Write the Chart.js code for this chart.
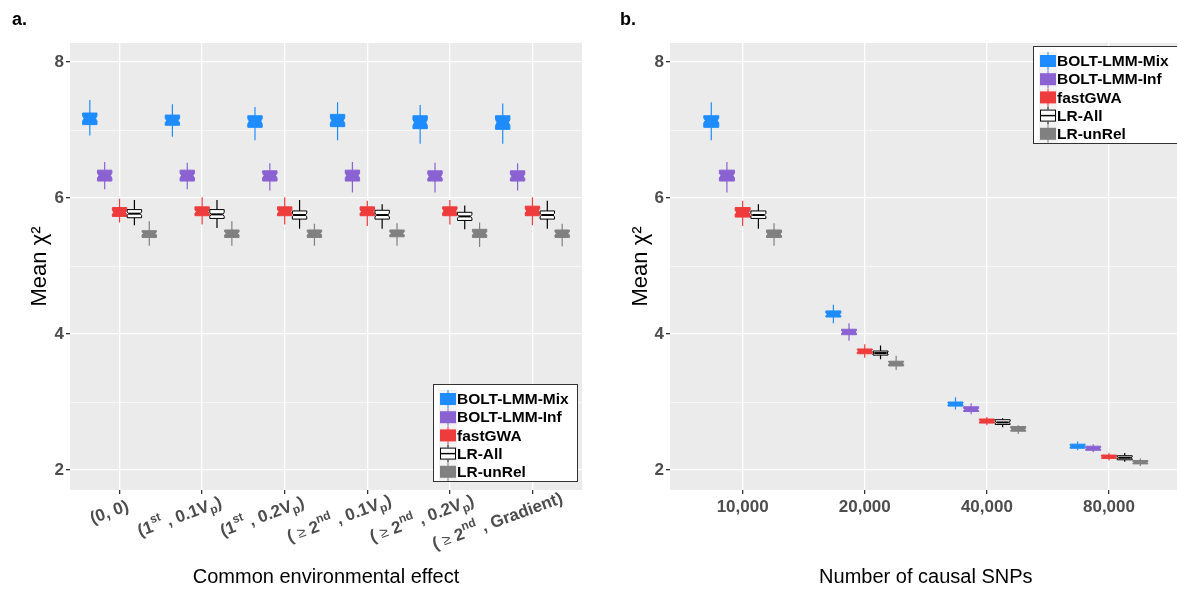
<!DOCTYPE html>
<html lang="en">
<head>
<meta charset="UTF-8">
<title>Mean chi-square by method</title>
<style>
  body { margin: 0; background: #fff; }
  .wrap { position: relative; width: 1177px; height: 590px; overflow: hidden; }
  #chartA { position: absolute; left: 0; top: 0; }
  #chartB { position: absolute; left: 600px; top: 0; }
</style>
</head>
<body>
<div class="wrap">
  <canvas id="chartA" width="600" height="590"></canvas>
  <canvas id="chartB" width="577" height="590"></canvas>
</div>
<script src="https://cdn.jsdelivr.net/npm/chart.js"></script>
<script>
// each entry: [lower whisker, Q1, median, Q3, upper whisker]
const methods = ['BOLT-LMM-Mix', 'BOLT-LMM-Inf', 'fastGWA', 'LR-All', 'LR-unRel'];

// panel a: common environmental effect
const envTicks = [
  [['(0, 0)', 'n']],
  [['(1', 'n'], ['st', 'sup'], [' , 0.1V', 'n'], ['p', 'sub'], [')', 'n']],
  [['(1', 'n'], ['st', 'sup'], [' , 0.2V', 'n'], ['p', 'sub'], [')', 'n']],
  [['( ', 'n'], ['\u2265', 'sym'], [' 2', 'n'], ['nd', 'sup'], [' , 0.1V', 'n'], ['p', 'sub'], [')', 'n']],
  [['( ', 'n'], ['\u2265', 'sym'], [' 2', 'n'], ['nd', 'sup'], [' , 0.2V', 'n'], ['p', 'sub'], [')', 'n']],
  [['( ', 'n'], ['\u2265', 'sym'], [' 2', 'n'], ['nd', 'sup'], [' , Gradient)', 'n']]
];
const envBoltMix = [
  [6.92, 7.08, 7.17, 7.25, 7.44],
  [6.90, 7.07, 7.14, 7.22, 7.38],
  [6.85, 7.04, 7.13, 7.21, 7.34],
  [6.85, 7.05, 7.14, 7.23, 7.41],
  [6.80, 7.02, 7.11, 7.21, 7.37],
  [6.80, 7.01, 7.11, 7.21, 7.39]
];
const envBoltInf = [
  [6.13, 6.25, 6.33, 6.41, 6.53],
  [6.13, 6.25, 6.33, 6.41, 6.52],
  [6.11, 6.25, 6.33, 6.40, 6.51],
  [6.08, 6.25, 6.33, 6.41, 6.53],
  [6.08, 6.25, 6.32, 6.40, 6.52],
  [6.11, 6.25, 6.32, 6.40, 6.51]
];
const envFastGWA = [
  [5.64, 5.73, 5.79, 5.86, 5.99],
  [5.61, 5.74, 5.80, 5.87, 6.01],
  [5.61, 5.74, 5.80, 5.87, 6.01],
  [5.59, 5.74, 5.80, 5.87, 5.96],
  [5.61, 5.74, 5.81, 5.87, 5.97],
  [5.60, 5.74, 5.81, 5.88, 6.01]
];
const envLRAll = [
  [5.60, 5.71, 5.77, 5.83, 5.97],
  [5.56, 5.70, 5.76, 5.83, 5.97],
  [5.55, 5.69, 5.75, 5.81, 5.97],
  [5.55, 5.69, 5.75, 5.82, 5.91],
  [5.54, 5.67, 5.73, 5.79, 5.89],
  [5.55, 5.69, 5.75, 5.81, 5.96]
];
const envLRunRel = [
  [5.30, 5.42, 5.48, 5.52, 5.66],
  [5.30, 5.42, 5.48, 5.53, 5.66],
  [5.30, 5.42, 5.48, 5.53, 5.62],
  [5.30, 5.43, 5.48, 5.53, 5.63],
  [5.28, 5.42, 5.48, 5.54, 5.64],
  [5.29, 5.42, 5.48, 5.53, 5.62]
];

// panel b: number of causal SNPs
const snpTicks = ['10,000', '20,000', '40,000', '80,000'];
const snpBoltMix = [[6.85, 7.04, 7.14, 7.21, 7.41], [4.16, 4.25, 4.29, 4.34, 4.43], [2.89, 2.94, 2.97, 3.00, 3.07], [2.29, 2.32, 2.35, 2.38, 2.42]];
const snpBoltInf = [[6.08, 6.25, 6.33, 6.41, 6.53], [3.90, 3.99, 4.03, 4.07, 4.16], [2.82, 2.86, 2.89, 2.93, 2.98], [2.26, 2.29, 2.32, 2.35, 2.38]];
const snpFastGWA = [[5.59, 5.72, 5.79, 5.86, 5.96], [3.65, 3.71, 3.75, 3.78, 3.85], [2.66, 2.69, 2.72, 2.75, 2.78], [2.14, 2.17, 2.19, 2.22, 2.25]];
const snpLRAll = [[5.55, 5.70, 5.75, 5.81, 5.91], [3.63, 3.69, 3.72, 3.75, 3.83], [2.63, 2.67, 2.70, 2.74, 2.76], [2.12, 2.15, 2.18, 2.21, 2.25]];
const snpLRunRel = [[5.30, 5.42, 5.47, 5.53, 5.63], [3.47, 3.53, 3.57, 3.60, 3.68], [2.53, 2.57, 2.60, 2.64, 2.66], [2.06, 2.09, 2.11, 2.14, 2.17]];

const yTicks = [2, 3, 4, 5, 6, 7, 8];

const FONT = '"Liberation Sans", Arial, sans-serif';
const fills = ['#1E8CFF', '#8A62D2', '#EE3B3B', '#FFFFFF', '#808080'];
const lines = ['#1E8CFF', '#8A62D2', '#EE3B3B', '#000000', '#808080'];
Chart.defaults.font.family = FONT;

function drawBox(ctx, xs, ys, xv, s, hw, fill, line) {
  const cx = xs.getPixelForValue(xv);
  const half = xs.getPixelForValue(xv + hw) - cx;
  const [lo, q1, med, q3, hi] = s.map(v => ys.getPixelForValue(v));
  ctx.strokeStyle = line;
  ctx.lineWidth = 1.2;
  ctx.beginPath();
  ctx.moveTo(cx, hi); ctx.lineTo(cx, q3);
  ctx.moveTo(cx, q1); ctx.lineTo(cx, lo);
  ctx.stroke();
  // small notch around the median
  const nh = (q1 - q3) * 0.22;
  const ind = Math.min(1.6, half * 0.2);
  const l = cx - half, r = cx + half;
  ctx.beginPath();
  ctx.moveTo(l, q3); ctx.lineTo(r, q3); ctx.lineTo(r, med - nh); ctx.lineTo(r - ind, med);
  ctx.lineTo(r, med + nh); ctx.lineTo(r, q1); ctx.lineTo(l, q1); ctx.lineTo(l, med + nh);
  ctx.lineTo(l + ind, med); ctx.lineTo(l, med - nh); ctx.closePath();
  ctx.fillStyle = fill; ctx.fill();
  ctx.lineWidth = 1; ctx.stroke();
  ctx.lineWidth = 2;
  ctx.beginPath(); ctx.moveTo(l + ind, med); ctx.lineTo(r - ind, med); ctx.stroke();
}

const boxPlugin = {
  id: 'boxes',
  beforeDraw(chart) {
    const a = chart.chartArea, ctx = chart.ctx;
    ctx.save();
    ctx.fillStyle = '#EBEBEB';
    ctx.fillRect(a.left, a.top, a.right - a.left, a.bottom - a.top);
    ctx.restore();
  },
  afterDatasetsDraw(chart) {
    const ctx = chart.ctx, xs = chart.scales.x, ys = chart.scales.y;
    ctx.save();
    chart.data.datasets.forEach(ds => {
      ds.stats.forEach((s, i) => drawBox(ctx, xs, ys, i + ds.offset, s, ds.halfWidth, ds.fillColor, ds.lineColor));
    });
    ctx.restore();
  }
};

function drawLegend(ctx, left, top) {
  ctx.save();
  ctx.fillStyle = '#fff';
  ctx.fillRect(left, top, 144, 98);
  ctx.strokeStyle = '#333';
  ctx.lineWidth = 1;
  ctx.strokeRect(left + 0.5, top + 0.5, 144, 97);
  methods.forEach((m, i) => {
    const cy = top + 15 + i * 18.2;
    const kx = left + 7;
    ctx.fillStyle = '#F2F2F2';
    ctx.fillRect(kx - 1, cy - 9, 18, 18);
    ctx.strokeStyle = lines[i];
    ctx.lineWidth = 1;
    ctx.beginPath(); ctx.moveTo(kx + 8, cy - 9); ctx.lineTo(kx + 8, cy + 9); ctx.stroke();
    ctx.fillStyle = fills[i];
    ctx.fillRect(kx, cy - 6, 16, 12);
    if (i === 3) {
      ctx.strokeRect(kx + 0.5, cy - 5.5, 15, 11);
      ctx.lineWidth = 1.5;
      ctx.beginPath(); ctx.moveTo(kx, cy); ctx.lineTo(kx + 16, cy); ctx.stroke();
    }
    ctx.fillStyle = '#000';
    ctx.font = 'bold 15.5px ' + FONT;
    ctx.textBaseline = 'middle';
    ctx.textAlign = 'left';
    ctx.fillText(m, left + 24, cy + 1);
  });
  ctx.restore();
}

function drawRich(ctx, segs, x, y, angle, hjust) {
  const fonts = {
    n: 'bold 17px ' + FONT,
    sym: '15px ' + FONT,
    sup: 'bold 12px ' + FONT,
    sub: 'bold 12px ' + FONT
  };
  const shift = { n: 0, sym: 0, sup: -7, sub: 5 };
  let total = 0;
  const widths = segs.map(([t, k]) => { ctx.font = fonts[k]; const w = ctx.measureText(t).width; total += w; return w; });
  ctx.save();
  ctx.translate(x, y);
  ctx.rotate(-angle * Math.PI / 180);
  ctx.fillStyle = '#4D4D4D';
  ctx.textBaseline = 'middle';
  ctx.textAlign = 'left';
  let cx = -hjust * total;
  segs.forEach(([t, k], i) => {
    ctx.font = fonts[k];
    ctx.fillText(t, cx, shift[k]);
    cx += widths[i];
  });
  ctx.restore();
}

function titles(letter, xTitle, drawTicksA, pos) {
  return {
    id: 'titles',
    afterDraw(chart) {
      const ctx = chart.ctx, xs = chart.scales.x, a = chart.chartArea;
      ctx.save();
      ctx.fillStyle = '#000';
      ctx.font = 'bold 18px ' + FONT;
      ctx.textBaseline = 'middle';
      ctx.textAlign = 'left';
      ctx.fillText(letter, pos.letterX, 20);
      ctx.font = '20px ' + FONT;
      ctx.textAlign = 'center';
      ctx.fillText(xTitle, pos.titleX(xs), 577);
      ctx.save();
      ctx.translate(pos.yTitleX, (a.top + a.bottom) / 2);
      ctx.rotate(-Math.PI / 2);
      ctx.font = '22px ' + FONT;
      ctx.fillText('Mean \u03C7\u00B2', 0, 0);
      ctx.restore();
      if (drawTicksA) {
        envTicks.forEach((segs, i) => drawRich(ctx, segs, xs.getPixelForValue(i), 509, 20, 0.77));
      }
      ctx.restore();
      drawLegend(ctx, pos.left, pos.top);
    }
  };
}

function makeDatasets(series, offsets, halfWidth) {
  return series.map((stats, k) => ({
    label: methods[k],
    data: stats.map((s, i) => ({ x: i + offsets[k], y: s[2] })),
    stats: stats,
    offset: offsets[k],
    halfWidth: halfWidth,
    fillColor: fills[k],
    lineColor: lines[k],
    pointRadius: 0,
    showLine: false
  }));
}

function yScale() {
  return {
    type: 'linear',
    min: 1.706, max: 8.28,
    afterBuildTicks: s => { s.ticks = yTicks.map(v => ({ value: v })); },
    afterFit: s => { s.width = 70; },
    border: { display: false },
    grid: {
      color: '#FFFFFF',
      lineWidth: c => (c.tick && c.tick.value % 2 === 0 ? 1.3 : 0.6),
      tickColor: c => (c.tick && c.tick.value % 2 === 0 ? '#333333' : 'rgba(0,0,0,0)'),
      tickLength: 4
    },
    ticks: {
      callback: v => (v % 2 === 0 ? String(v) : ''),
      font: { size: 17, weight: 'bold' },
      color: '#4D4D4D',
      padding: 2
    }
  };
}

new Chart(document.getElementById('chartA'), {
  type: 'scatter',
  data: { datasets: makeDatasets([envBoltMix, envBoltInf, envFastGWA, envLRAll, envLRunRel], [-0.36, -0.18, 0, 0.18, 0.36], 0.087) },
  options: {
    responsive: false,
    animation: false,
    layout: { padding: { left: 0, right: 18, top: 43, bottom: 0 } },
    plugins: { legend: { display: false }, tooltip: { enabled: false } },
    scales: {
      x: {
        type: 'linear',
        min: -0.6, max: 5.6,
        afterBuildTicks: s => { s.ticks = envTicks.map((_, i) => ({ value: i })); },
        afterFit: s => { s.height = 100; },
        border: { display: false },
        grid: { color: '#FFFFFF', lineWidth: 1.3, tickColor: '#333333', tickLength: 4 },
        ticks: { callback: () => '', autoSkip: false, maxRotation: 0 }
      },
      y: yScale()
    }
  },
  plugins: [boxPlugin, titles('a.', 'Common environmental effect', true, {
    left: 433, top: 384, letterX: 12, yTitleX: 40, titleX: xs => xs.getPixelForValue(2.5)
  })]
});

new Chart(document.getElementById('chartB'), {
  type: 'scatter',
  data: { datasets: makeDatasets([snpBoltMix, snpBoltInf, snpFastGWA, snpLRAll, snpLRunRel], [-0.257, -0.129, 0, 0.129, 0.257], 0.0615) },
  options: {
    responsive: false,
    animation: false,
    layout: { padding: { left: 0, right: 0, top: 43, bottom: 0 } },
    plugins: { legend: { display: false }, tooltip: { enabled: false } },
    scales: {
      x: {
        type: 'linear',
        min: -0.595, max: 3.557,
        afterBuildTicks: s => { s.ticks = snpTicks.map((_, i) => ({ value: i })); },
        afterFit: s => { s.height = 100; },
        border: { display: false },
        grid: { color: '#FFFFFF', lineWidth: 1.3, tickColor: '#333333', tickLength: 4 },
        ticks: {
          callback: v => snpTicks[v] || '',
          autoSkip: false, maxRotation: 0,
          font: { size: 17, weight: 'bold' },
          color: '#4D4D4D',
          padding: 3
        }
      },
      y: yScale()
    }
  },
  plugins: [boxPlugin, titles('b.', 'Number of causal SNPs', false, {
    left: 433, top: 46, letterX: 20, yTitleX: 41, titleX: xs => xs.getPixelForValue(1.5)
  })]
});
</script>
</body>
</html>
